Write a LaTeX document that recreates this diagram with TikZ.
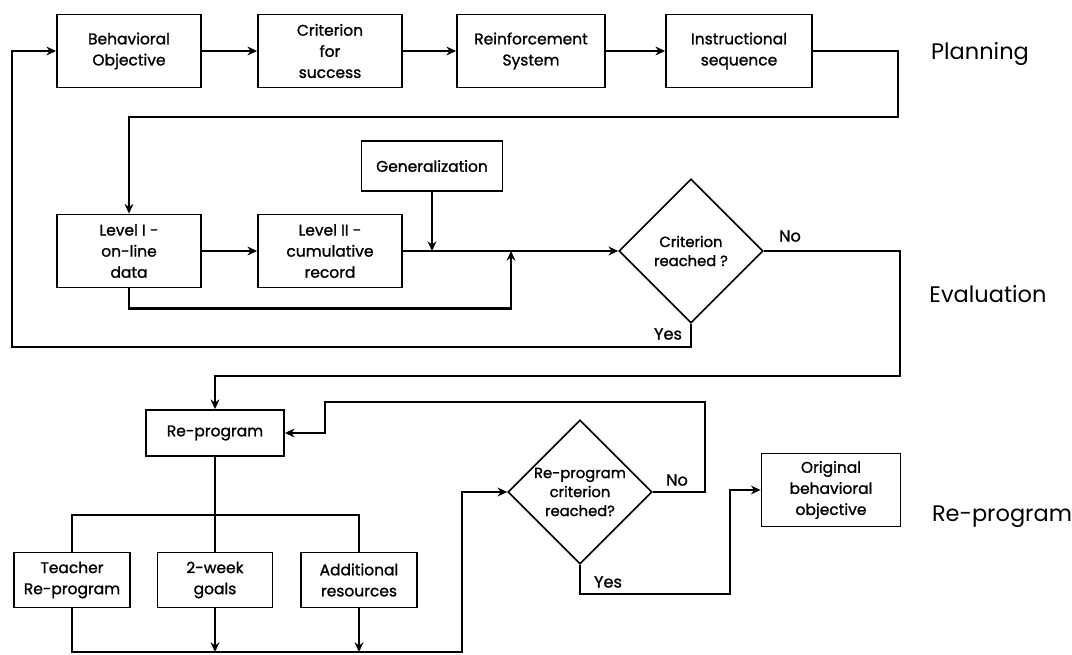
\documentclass[tikz,border=0pt]{standalone}
\usepackage{fontspec}
\setmainfont{Poppins}
\newfontfamily\heavyfont{Poppins}[FakeBold=1.2]
\usetikzlibrary{shapes.geometric,arrows.meta}

\tikzset{
	box/.style={draw, line width=1.3pt, align=center, inner sep=1pt,
		font=\heavyfont\fontsize{11}{15}\selectfont},
	decision/.style={draw, diamond, aspect=1, line width=1.1pt, inner sep=0pt,
		minimum width=3.6cm, minimum height=3.6cm},
	dtext/.style={align=center, font=\heavyfont\fontsize{10.5}{13.5}\selectfont},
	link/.style={line width=1.9pt},
	arr/.style={link, -{Stealth[length=2.4mm,width=2.2mm]}},
	phase/.style={font=\fontsize{16}{18}\selectfont},
	tag/.style={font=\heavyfont\fontsize{11.5}{13}\selectfont},
}

\begin{document}
\begin{tikzpicture}[x=0.025cm, y=-0.025cm]
		\useasboundingbox (0,0) rectangle (1072,655);
		% 計画
		\node [box, minimum width=3.6cm, minimum height=1.825cm] (beh) at (129,51) {Behavioral\\Objective};
		\node [box, minimum width=3.6cm, minimum height=1.825cm] (crit) at (330,51) {Criterion\\for\\success};
		\node [box, minimum width=3.7cm, minimum height=1.825cm] (reinf) at (531,51) {Reinforcement\\System};
		\node [box, minimum width=3.65cm, minimum height=1.825cm] (instr) at (739,51) {Instructional\\sequence};
		\node [phase] (planning) at (980,54) {Planning};
		\draw [arr] (beh) -- (crit);
		\draw [arr] (crit) -- (reinf);
		\draw [arr] (reinf) -- (instr);
		% 評価
		\node [box, minimum width=3.525cm, minimum height=1.25cm] (gen) at (432,166) {Generalization};
		\node [box, minimum width=3.6cm, minimum height=1.825cm] (lev1) at (129,251) {Level I -\\on-line\\data};
		\node [box, minimum width=3.6cm, minimum height=1.825cm] (lev2) at (330,251) {Level II -\\cumulative\\record};
		\node [decision, label={[dtext]center:Criterion\\reached ?}] (dia1) at (691,251) {};
		\node [tag] (no1) at (790,236) {No};
		\node [tag] (yes1) at (668,334) {Yes};
		\node [phase] (evaluation) at (988,294) {Evaluation};
		\coordinate (r1) at (898,117);
		\coordinate (j1) at (511,251);
		\coordinate (fb) at (12,347);
		\coordinate (r2) at (900,376);
		\draw [arr] (instr.east) -| (r1) -| (lev1.north);
		\draw [arr] (lev1) -- (lev2);
		\draw [arr] (lev2.east) -- (dia1.west);
		\draw [arr] (gen.south) -- (gen.south |- dia1.west);
		\draw [arr] (lev1.south) -- ++(0,20) -| (j1);
		\draw [arr] (dia1.south) |- (fb) |- (beh.west);
		% 再プログラム
		\node [box, minimum width=3.45cm, minimum height=1.15cm] (rep) at (215,433) {Re-program};
		\node [box, minimum width=2.9cm, minimum height=1.375cm] (teach) at (72,580) {Teacher\\Re-program};
		\node [box, minimum width=2.875cm, minimum height=1.375cm] (week) at (215,580) {2-week\\goals};
		\node [box, minimum width=2.9cm, minimum height=1.375cm] (addres) at (359,580) {Additional\\resources};
		\node [decision, label={[dtext]center:Re-program\\criterion\\reached?}] (dia2) at (580,492) {};
		\node [box, minimum width=3.475cm, minimum height=1.825cm] (orig) at (831,490) {Original\\behavioral\\objective};
		\node [tag] (no2) at (677,480) {No};
		\node [tag] (yes2) at (608,582) {Yes};
		\node [phase] (reprog) at (1002,517) {Re-program};
		\coordinate (br) at (215,515);
		\coordinate (bl) at (462,652);
		\coordinate (n2) at (705,402);
		\coordinate (n3) at (325,402);
		\coordinate (y2) at (730,594);
		\draw [arr] (dia1.east) -| (r2) -| (rep.north);
		\draw [link] (rep.south) -- (br);
		\draw [link] (teach.north) |- (br) -| (addres.north);
		\draw [link] (br) -- (week.north);
		\draw [arr] (teach.south) |- (bl) |- (dia2.west);
		\draw [arr] (week.south) -- (week.south |- bl);
		\draw [arr] (addres.south) -- (addres.south |- bl);
		\draw [arr] (dia2.east) -| (n2) -- (n3) |- (rep.east);
		\draw [arr] (dia2.south) |- (y2) |- (orig.west);
	\end{tikzpicture}
\end{document}
